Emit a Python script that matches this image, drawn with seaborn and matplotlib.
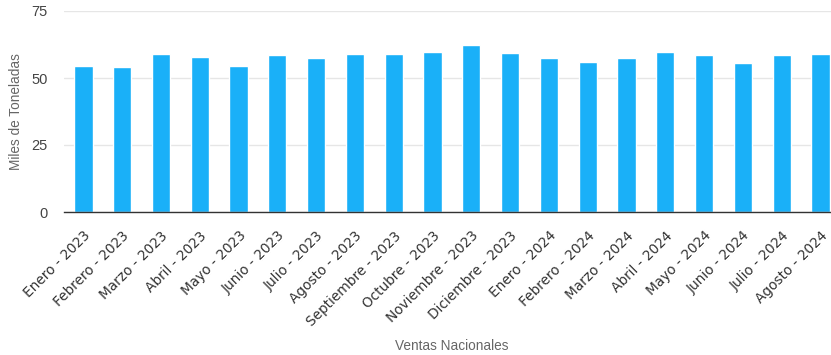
import matplotlib
matplotlib.use("Agg")
import matplotlib.pyplot as plt
import seaborn as sns
import pandas as pd

categories = ["Enero - 2023", "Febrero - 2023", "Marzo - 2023", "Abril - 2023", "Mayo - 2023",
              "Junio - 2023", "Julio - 2023", "Agosto - 2023", "Septiembre - 2023", "Octubre - 2023",
              "Noviembre - 2023", "Diciembre - 2023", "Enero - 2024", "Febrero - 2024", "Marzo - 2024",
              "Abril - 2024", "Mayo - 2024", "Junio - 2024", "Julio - 2024", "Agosto - 2024"]
values = [54.6, 54.2, 59.1, 57.8, 54.6, 58.6, 57.3, 59.0, 59.0, 59.8,
          62.2, 59.4, 57.3, 55.8, 57.3, 59.8, 58.6, 55.5, 58.6, 59.1]
yticks = [0, 25, 50, 75]

df = pd.DataFrame({"mes": categories, "valor": values})

sns.set_theme(style="white")
fig = plt.figure(figsize=(8.31, 3.55), dpi=100)
ax = fig.add_axes([64/831, (355-212)/355, (831-64)/831, 201/355])

sns.barplot(data=df, x="mes", y="valor", color="#1AB0F8", saturation=1, width=0.47, ax=ax)

ax.set_ylim(0, 75)
ax.set_xlim(-0.5, 19.27)
ax.set_yticks(yticks)
ax.set_yticklabels([str(t) for t in yticks], fontsize=10.5, color="#444444", family="Liberation Sans")
ax.yaxis.grid(True, color="#e6e6e6", linewidth=1)
ax.set_axisbelow(True)
for s in ["top", "right", "left"]:
    ax.spines[s].set_visible(False)
ax.spines["bottom"].set_color("#333333")
ax.spines["bottom"].set_linewidth(1)
ax.tick_params(axis="both", length=0)
ax.tick_params(axis="y", pad=12)
ax.tick_params(axis="x", pad=12)
ax.set_xticks(range(len(categories)))
ax.set_xticklabels(categories, rotation=45, ha="right", rotation_mode="anchor",
                   fontsize=9.8, color="#333333", family="DejaVu Sans")
ax.set_ylabel("Miles de Toneladas", fontsize=9.8, color="#666666", family="Liberation Sans")
ax.yaxis.set_label_coords(-(64-23)/767, 0.5)
ax.set_xlabel("Ventas Nacionales", fontsize=9.8, color="#666666", family="Liberation Sans")
ax.xaxis.set_label_coords((452-64)/767, -(346-212)/201)
ax.xaxis.label.set_va("center")

fig.savefig("out.png", dpi=100, facecolor="white")
